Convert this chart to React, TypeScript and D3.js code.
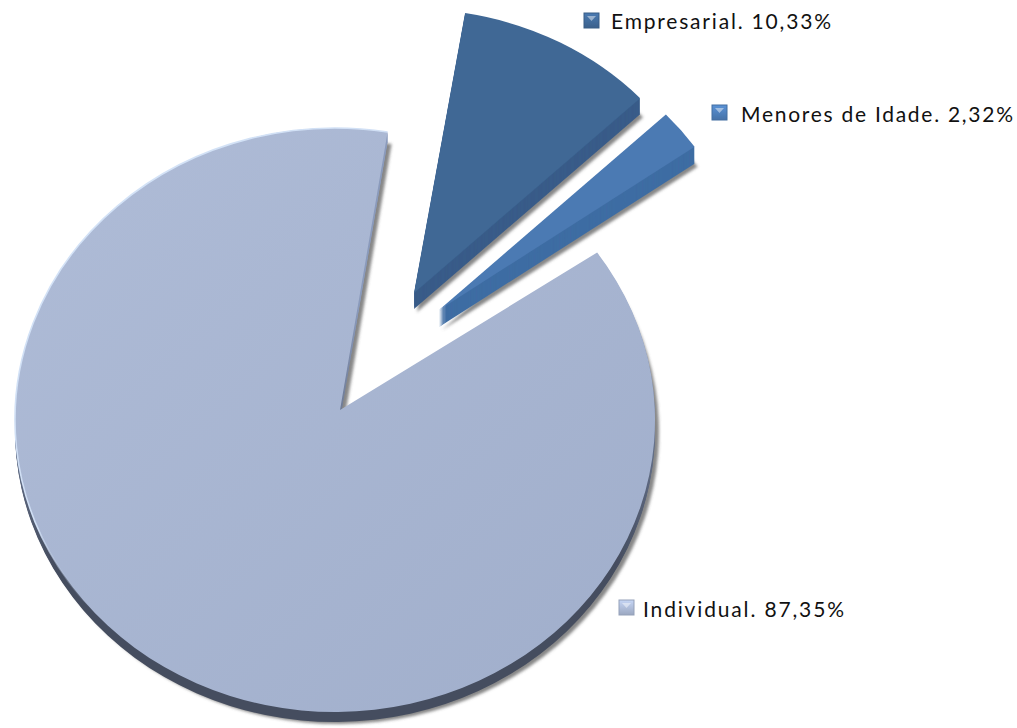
import React from "react";
import * as d3 from "d3";

const categories = ["Individual", "Empresarial", "Menores de Idade"];
const values = [87.35, 10.33, 2.32];
const valueLabels = ["87,35%", "10,33%", "2,32%"];
const faceColors = ["#a6b3ce", "#3f6795", "#4b7ab3"];
const sideColors = ["url(#sideMain)", "#395c89", "#3f6da3"];
const centerX = [335, 414, 439];
const centerY = [420, 293, 310];
const apexX = [340, 414, 439];
const apexY = [410, 293, 310];
const radii = [320, 311, 312];
const depths = [10, 16, 17];
const shadowDx = [4, 3, 3];
const shadowDy = [2, 3, 3];
const labelX = [643, 611, 741];
const labelY = [617, 29, 122];
const labelW = [201, 220, 272];
const markerX = [619, 584, 712];
const markerY = [600, 13, 105];

const TILT = 0.9125;
const START = (55 * Math.PI) / 180;

const pt = (i: number, a: number): [number, number] => [
  centerX[i] + radii[i] * Math.sin(a),
  centerY[i] - radii[i] * TILT * Math.cos(a),
];

export default function App() {
  const pie = d3
    .pie<number>()
    .sort(null)
    .startAngle(START)
    .endAngle(START + 2 * Math.PI);
  const arcs = pie(values);
  const arcOnly = arcs.map((a, i) => {
    const [x0, y0] = pt(i, a.startAngle);
    const [x1, y1] = pt(i, a.endAngle);
    const large = a.endAngle - a.startAngle > Math.PI ? 1 : 0;
    return `M${x0},${y0}A${radii[i]},${radii[i] * TILT} 0 ${large} 1 ${x1},${y1}`;
  });
  const paths = arcOnly.map((d, i) => `${d}L${apexX[i]},${apexY[i]}Z`);

  return (
    <svg
      width={1017}
      height={728}
      style={{ position: "absolute", left: 0, top: 0, background: "#fff" }}
    >
      <defs>
        <filter id="blur" x="-10%" y="-10%" width="120%" height="120%">
          <feGaussianBlur stdDeviation="1.8" />
        </filter>
        <filter id="soft" x="-10%" y="-10%" width="120%" height="120%">
          <feGaussianBlur stdDeviation="0.6" />
        </filter>
        <linearGradient id="rim" x1="0" y1="0" x2="1" y2="1">
          <stop offset="0" stopColor="#d6e5f8" />
          <stop offset="0.36" stopColor="#cfdef4" />
          <stop offset="0.47" stopColor="#a4b1cc" stopOpacity="0" />
        </linearGradient>
        <linearGradient id="faceMain" x1="0" y1="0" x2="1" y2="1">
          <stop offset="0" stopColor="#afbcd7" />
          <stop offset="1" stopColor="#a0aecb" />
        </linearGradient>
        <linearGradient id="sideMain" gradientUnits="userSpaceOnUse" x1="0" y1="300" x2="0" y2="560">
          <stop offset="0" stopColor="#8a9abb" />
          <stop offset="1" stopColor="#454d5f" />
        </linearGradient>
        {faceColors.map((c, i) => (
          <linearGradient key={i} id={`mk${i}`} x1="0" y1="0" x2="0" y2="1">
            <stop offset="0" stopColor={d3.color(c)!.brighter(0.5).formatHex()} />
            <stop offset="1" stopColor={d3.color(c)!.darker(0.2).formatHex()} />
          </linearGradient>
        ))}
      </defs>

      {arcs.map((_, i) => (
        <g key={i}>
          <path
            d={paths[i]}
            transform={`translate(${shadowDx[i]},${depths[i] + shadowDy[i]})`}
            fill="#555"
            fillOpacity={0.7}
            filter="url(#blur)"
          />
          <g filter="url(#soft)">
            {d3.range(depths[i], 0, -1).map((d) => (
              <path key={d} d={paths[i]} transform={`translate(0,${d})`} fill={sideColors[i]} />
            ))}
          </g>
          <path
            d={paths[i]}
            fill={i === 0 ? "url(#faceMain)" : faceColors[i]}
            filter="url(#soft)"
          />
          {i === 0 && (
            <path d={arcOnly[i]} fill="none" stroke="url(#rim)" strokeWidth={1.6} filter="url(#soft)" />
          )}
        </g>
      ))}

      {categories.map((c, i) => (
        <g key={c}>
          <rect
            x={markerX[i]}
            y={markerY[i]}
            width={15}
            height={15}
            fill={`url(#mk${i})`}
            stroke={d3.color(faceColors[i])!.darker(0.3).formatHex()}
            strokeWidth={1}
            filter="url(#soft)"
          />
          <path
            d={d3.line()([
              [markerX[i] + 3, markerY[i] + 3],
              [markerX[i] + 12, markerY[i] + 3],
              [markerX[i] + 7.5, markerY[i] + 8],
            ]) + "Z"}
            fill="#fff"
            fillOpacity={0.45}
          />
          <text
            x={labelX[i]}
            y={labelY[i]}
            textLength={labelW[i]}
            lengthAdjust="spacing"
            fontFamily="Lato, 'Open Sans', sans-serif"
            fontSize={21}
            fill="#111"
          >
            {`${c}. ${valueLabels[i]}`}
          </text>
        </g>
      ))}
    </svg>
  );
}
